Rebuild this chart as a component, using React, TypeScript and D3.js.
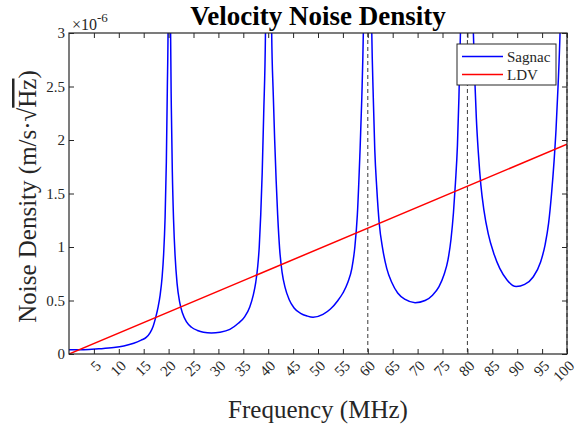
// Velocity noise density chart: Sagnac vs LDV
import React, { useEffect, useRef } from "react";
import * as d3 from "d3";

// Sagnac curve, values (x1e-6 m/s/sqrt(Hz))
const sagnacFreq = [
  0, 3, 6, 9, 11, 13, 14.5, 15.5, 16.3, 16.9, 17.4, 17.9, 18.3, 18.7, 19.0, 19.3, 19.55, 19.75, 19.9, 20.1,
  20.4, 20.55, 20.75, 21.0, 21.3, 21.7, 22.2, 22.8, 23.6, 24.6, 25.8, 27, 28.6, 30.3, 32.3, 34, 35.3, 36.3,
  37.0, 37.5, 37.9, 38.2, 38.5, 38.8, 39.1, 39.45, 40.1,
  40.7, 41.0, 41.3, 41.6, 41.9, 42.3, 42.8, 43.4, 44.2, 45.2, 46.5, 47.8, 49, 51, 52.5, 54,
  55, 56, 56.8, 57.4, 57.9, 58.4, 58.8, 59.1, 59.95,
  60.8, 61.1, 61.4, 61.8, 62.3, 63.0, 63.8, 64.8, 66, 67.5, 69.5, 71.5, 73, 74.3, 75.3, 76.1, 76.7,
  77.2, 77.6, 78.0, 78.3, 78.6, 79.9,
  81.2, 81.5, 81.8, 82.2, 82.7, 83.3, 84.2, 85.3, 86.5, 88, 89.8, 91.5, 93.2, 94.7, 95.6, 96.3,
  96.9, 97.4, 97.8, 98.2, 98.6, 100,
];
const sagnacVal = [
  0.04, 0.04, 0.048, 0.06, 0.075, 0.1, 0.13, 0.155, 0.2, 0.26, 0.34, 0.44, 0.55, 0.72, 0.93, 1.28, 1.8, 2.5, 3.1, 8,
  3.0, 2.3, 1.7, 1.25, 0.92, 0.66, 0.49, 0.38, 0.3, 0.25, 0.22, 0.203, 0.196, 0.203, 0.23, 0.287, 0.35, 0.44,
  0.55, 0.67, 0.82, 1.0, 1.3, 1.7, 2.25, 3.0, 8,
  3.0, 2.45, 2.0, 1.62, 1.3, 0.98, 0.76, 0.62, 0.51, 0.43, 0.38, 0.355, 0.343, 0.37, 0.42, 0.5,
  0.57, 0.67, 0.8, 1.0, 1.3, 1.85, 2.4, 3.0, 8,
  3.0, 2.4, 1.91, 1.55, 1.22, 0.98, 0.8, 0.67, 0.57, 0.51, 0.48, 0.5, 0.55, 0.63, 0.74, 0.88, 1.07,
  1.32, 1.6, 1.95, 2.4, 3.0, 8,
  3.0, 2.55, 2.2, 1.88, 1.58, 1.35, 1.12, 0.94, 0.8, 0.69, 0.63, 0.65, 0.72, 0.86, 1.02, 1.22,
  1.5, 1.8, 2.1, 2.5, 3.0, 8,
];

// LDV line
const ldvFreq = [0, 100];
const ldvVal = [0, 1.96];

// dashed markers
const markerFreq = [60, 80, 100];

const xTicks = [5, 10, 15, 20, 25, 30, 35, 40, 45, 50, 55, 60, 65, 70, 75, 80, 85, 90, 95, 100];
const yTicks = [0, 0.5, 1, 1.5, 2, 2.5, 3];

const seriesNames = ["Sagnac", "LDV"];
const seriesColors = ["#0000ff", "#ff0000"];

const FONT = "'Liberation Serif', 'Times New Roman', serif";

export default function App() {
  const ref = useRef<SVGSVGElement>(null);

  useEffect(() => {
    const svg = d3.select(ref.current);
    svg.selectAll("*").remove();

    const left = 69;
    const right = 567;
    const top = 33;
    const bottom = 354;
    const w = right - left;
    const h = bottom - top;

    const x = d3.scaleLinear().domain([0, 100]).range([0, w]);
    const y = d3.scaleLinear().domain([0, 3]).range([h, 0]);

    const chart = svg.append("g").attr("transform", `translate(${left},${top})`);

    chart
      .append("clipPath")
      .attr("id", "plotClip")
      .append("rect")
      .attr("width", w)
      .attr("height", h);

    //dashed verticals
    chart
      .selectAll(".marker")
      .data(markerFreq)
      .enter()
      .append("line")
      .attr("x1", (d) => x(d))
      .attr("x2", (d) => x(d))
      .attr("y1", 0)
      .attr("y2", h)
      .attr("stroke", "#3a3a3a")
      .attr("stroke-width", 1)
      .attr("stroke-dasharray", "4,3");

    const plot = chart.append("g").attr("clip-path", "url(#plotClip)");

    const line = d3
      .line<[number, number]>()
      .x((d) => x(d[0]))
      .y((d) => y(d[1]))
      .curve(d3.curveMonotoneX);

    const sagnac = sagnacFreq.map((f, i) => [f, sagnacVal[i]] as [number, number]);
    const ldv = ldvFreq.map((f, i) => [f, ldvVal[i]] as [number, number]);

    plot
      .append("path")
      .datum(sagnac)
      .attr("fill", "none")
      .attr("stroke", seriesColors[0])
      .attr("stroke-width", 1.5)
      .attr("d", line);

    plot
      .append("path")
      .datum(ldv)
      .attr("fill", "none")
      .attr("stroke", seriesColors[1])
      .attr("stroke-width", 1.5)
      .attr("d", line);

    //axes, ticks pointing inward
    const styleAxis = (g: any) => {
      g.select(".domain").remove();
      g.selectAll("line").attr("stroke", "#262626");
      g.selectAll("text").attr("fill", "#262626").style("font-family", FONT).style("font-size", "15px");
    };

    const xAxis = chart
      .append("g")
      .attr("transform", `translate(0,${h})`)
      .call(d3.axisBottom(x).tickValues(xTicks).tickSize(-5).tickFormat(d3.format("d")));
    styleAxis(xAxis);
    xAxis
      .selectAll("text")
      .attr("y", 0)
      .attr("dy", "0.35em")
      .attr("transform", "translate(4,9) rotate(-45)")
      .style("text-anchor", "end");

    const xTop = chart.append("g").call(d3.axisTop(x).tickValues(xTicks).tickSize(-5).tickFormat(() => ""));
    styleAxis(xTop);

    const yAxis = chart
      .append("g")
      .call(d3.axisLeft(y).tickValues(yTicks).tickSize(-5).tickPadding(4).tickFormat((d) => String(d)));
    styleAxis(yAxis);

    const yRight = chart
      .append("g")
      .attr("transform", `translate(${w},0)`)
      .call(d3.axisRight(y).tickValues(yTicks).tickSize(-5).tickFormat(() => ""));
    styleAxis(yRight);

    //box
    chart
      .append("rect")
      .attr("width", w)
      .attr("height", h)
      .attr("fill", "none")
      .attr("stroke", "#262626")
      .attr("stroke-width", 1.2);

    //exponent
    const expo = svg
      .append("text")
      .attr("x", left + 3)
      .attr("y", 30)
      .attr("fill", "#262626")
      .style("font-family", FONT)
      .style("font-size", "16px");
    expo.append("tspan").text("\u00d710");
    expo.append("tspan").attr("dy", -8).style("font-size", "13px").text("-6");

    //title
    svg
      .append("text")
      .attr("x", (left + right) / 2)
      .attr("y", 25)
      .attr("text-anchor", "middle")
      .style("font-family", FONT)
      .style("font-size", "27px")
      .style("font-weight", "bold")
      .text("Velocity Noise Density");

    //x label
    svg
      .append("text")
      .attr("x", (left + right) / 2)
      .attr("y", 418)
      .attr("text-anchor", "middle")
      .attr("fill", "#262626")
      .style("font-family", FONT)
      .style("font-size", "25px")
      .text("Frequency (MHz)");

    //y label
    const yl = svg
      .append("text")
      .attr("transform", `translate(36,${(top + bottom) / 2 + 3}) rotate(-90)`)
      .attr("text-anchor", "middle")
      .attr("fill", "#262626")
      .style("font-family", FONT)
      .style("font-size", "25px");
    yl.append("tspan").text("Noise Density (m/s\u00b7\u221a");
    yl.append("tspan").style("text-decoration", "overline").text("Hz");
    yl.append("tspan").text(")");

    //legend
    const legend = svg.append("g").attr("transform", "translate(457,44)");
    legend
      .append("rect")
      .attr("width", 99)
      .attr("height", 41)
      .attr("fill", "#ffffff")
      .attr("stroke", "#262626")
      .attr("stroke-width", 1);
    seriesNames.forEach((name, i) => {
      const ly = 12.5 + i * 18;
      legend
        .append("line")
        .attr("x1", 5)
        .attr("x2", 46)
        .attr("y1", ly)
        .attr("y2", ly)
        .attr("stroke", seriesColors[i])
        .attr("stroke-width", 1.5);
      legend
        .append("text")
        .attr("x", 50)
        .attr("y", ly + 5)
        .attr("fill", "#262626")
        .style("font-family", FONT)
        .style("font-size", "15px")
        .text(name);
    });
  }, []);

  return (
    <svg
      ref={ref}
      width={576}
      height={428}
      style={{ position: "absolute", left: 0, top: 0, background: "#ffffff" }}
    />
  );
}
